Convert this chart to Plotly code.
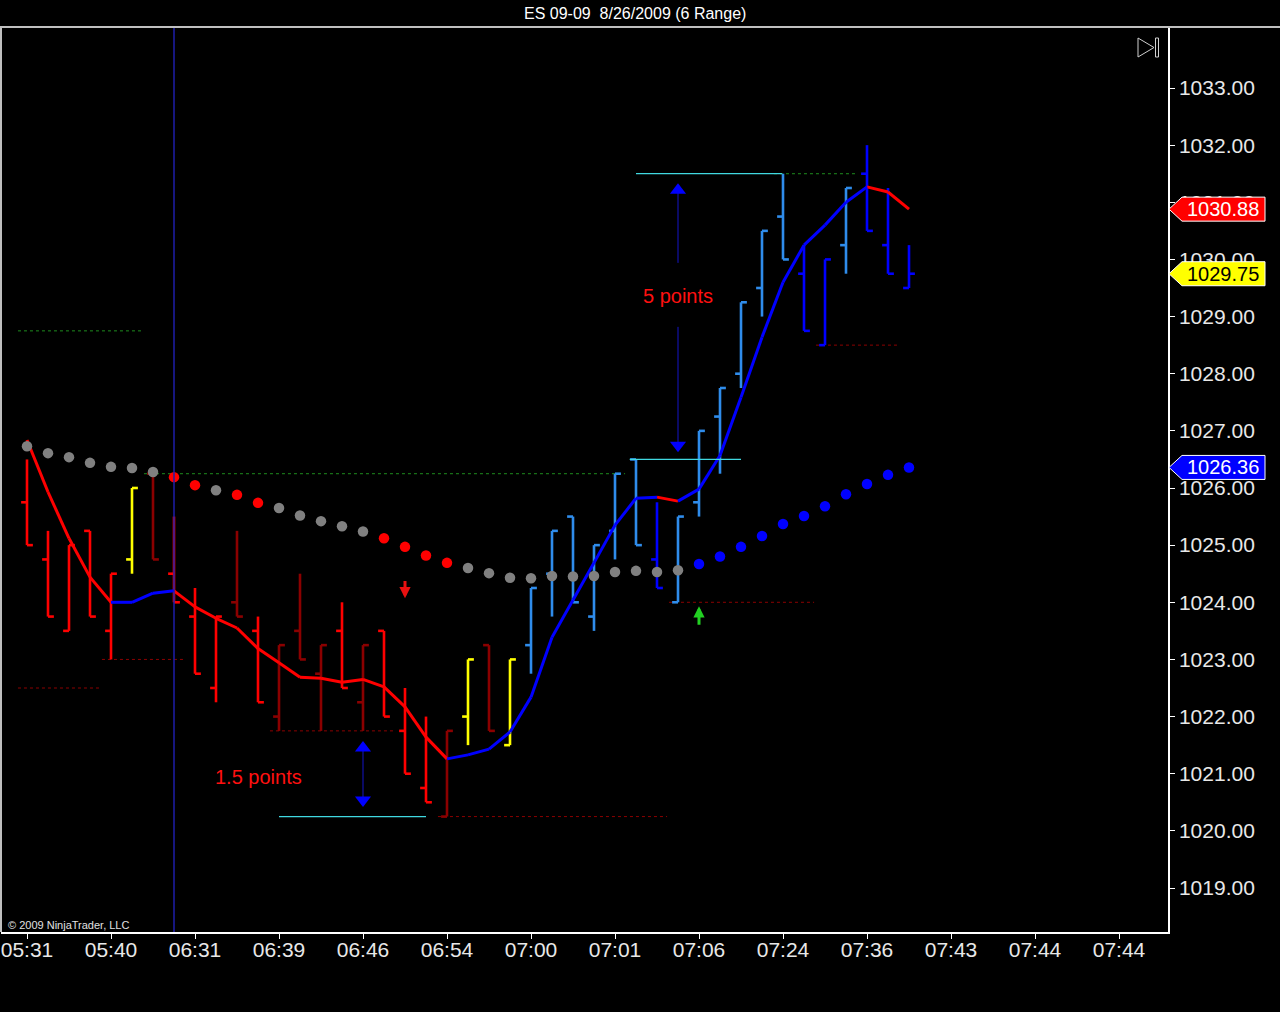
import plotly.graph_objects as go

# ES 09-09, 8/26/2009, 6 tick range bars (one entry per bar)
bar_open = [1025.75, 1024.75, 1023.50, 1025.25, 1023.50, 1024.75, 1026.25, 1024.50, 1023.75, 1022.50,
            1024.00, 1023.50, 1022.00, 1023.50, 1022.75, 1023.50, 1022.25, 1023.50, 1021.75, 1020.75,
            1020.25, 1022.00, 1023.25, 1021.50, 1023.25, 1024.50, 1025.50, 1023.75, 1025.25, 1026.50,
            1024.75, 1024.00, 1025.75, 1027.25, 1028.00, 1029.50, 1030.75, 1029.75, 1028.50, 1030.25,
            1031.50, 1030.25, 1029.50]
bar_high = [1026.50, 1025.25, 1025.00, 1025.25, 1024.50, 1026.00, 1026.25, 1025.50, 1024.25, 1023.75,
            1025.25, 1023.75, 1023.25, 1024.50, 1023.25, 1024.00, 1023.25, 1023.50, 1022.50, 1022.00,
            1021.75, 1023.00, 1023.25, 1023.00, 1024.25, 1025.25, 1025.50, 1025.00, 1026.25, 1026.50,
            1025.75, 1025.50, 1027.00, 1027.75, 1029.25, 1030.50, 1031.50, 1030.25, 1030.00, 1031.25,
            1032.00, 1031.25, 1030.25]
bar_low = [1025.00, 1023.75, 1023.50, 1023.75, 1023.00, 1024.50, 1024.75, 1024.00, 1022.75, 1022.25,
           1023.75, 1022.25, 1021.75, 1023.00, 1021.75, 1022.50, 1021.75, 1022.00, 1021.00, 1020.50,
           1020.25, 1021.50, 1021.75, 1021.50, 1022.75, 1023.75, 1024.00, 1023.50, 1024.75, 1025.00,
           1024.25, 1024.00, 1025.50, 1026.25, 1027.75, 1029.00, 1030.00, 1028.75, 1028.50, 1029.75,
           1030.50, 1029.75, 1029.50]
bar_close = [1025.00, 1023.75, 1025.00, 1023.75, 1024.50, 1026.00, 1024.75, 1024.00, 1022.75, 1023.75,
             1023.75, 1022.25, 1023.25, 1023.00, 1023.25, 1022.50, 1023.25, 1022.00, 1021.00, 1020.50,
             1021.75, 1023.00, 1021.75, 1023.00, 1024.25, 1025.25, 1024.00, 1025.00, 1026.25, 1025.00,
             1024.25, 1025.50, 1027.00, 1027.75, 1029.25, 1030.50, 1030.00, 1028.75, 1030.00, 1031.25,
             1030.50, 1029.75, 1029.75]
# bar paint: dn = down trend, wk = weak down, nt = neutral, up = up trend, su = strong up
bar_state = ['dn', 'dn', 'dn', 'dn', 'dn', 'nt', 'wk', 'dn', 'dn', 'dn',
             'wk', 'dn', 'wk', 'wk', 'wk', 'dn', 'wk', 'dn', 'dn', 'dn',
             'wk', 'nt', 'wk', 'nt', 'up', 'up', 'up', 'up', 'up', 'up',
             'su', 'up', 'up', 'up', 'up', 'up', 'up', 'su', 'su', 'up',
             'su', 'su', 'su']

# fast average (line), coloured by slope
ma_fast = [1026.84, 1025.93, 1025.12, 1024.44, 1024.00, 1024.00, 1024.16, 1024.20, 1023.92, 1023.72,
           1023.55, 1023.19, 1022.94, 1022.69, 1022.67, 1022.60, 1022.65, 1022.52, 1022.17, 1021.64,
           1021.26, 1021.33, 1021.43, 1021.73, 1022.34, 1023.39, 1024.04, 1024.69, 1025.35, 1025.82,
           1025.84, 1025.77, 1025.98, 1026.57, 1027.59, 1028.64, 1029.60, 1030.25, 1030.60, 1031.00,
           1031.27, 1031.18, 1030.88]
ma_fast_dir = ['dn'] * 5 + ['up'] * 3 + ['dn'] * 13 + ['up'] * 10 + ['dn'] + ['up'] * 9 + ['dn'] * 2

# slow average (dots)
ma_slow = [1026.73, 1026.61, 1026.54, 1026.44, 1026.37, 1026.35, 1026.28, 1026.19, 1026.05, 1025.96,
           1025.88, 1025.74, 1025.65, 1025.52, 1025.42, 1025.33, 1025.24, 1025.12, 1024.97, 1024.82,
           1024.69, 1024.60, 1024.51, 1024.43, 1024.42, 1024.46, 1024.45, 1024.46, 1024.53, 1024.55,
           1024.53, 1024.56, 1024.67, 1024.80, 1024.97, 1025.16, 1025.37, 1025.51, 1025.68, 1025.89,
           1026.07, 1026.23, 1026.36]
ma_slow_state = ['fl'] * 7 + ['dn'] * 2 + ['fl'] + ['dn'] * 2 + ['fl'] * 5 + ['dn'] * 4 + ['fl'] * 11 + ['up'] * 11

time_ticks = [0, 4, 8, 12, 16, 20, 24, 28, 32, 36, 40, 44, 48, 52]
time_labels = ['05:31', '05:40', '06:31', '06:39', '06:46', '06:54', '07:00',
               '07:01', '07:06', '07:24', '07:36', '07:43', '07:44', '07:44']
price_ticks = [1019, 1020, 1021, 1022, 1023, 1024, 1025, 1026, 1027, 1028, 1029, 1030, 1031, 1032, 1033]

# swing high / low levels: price, first bar, last bar, kind
swing_price = [1028.75, 1022.50, 1026.25, 1023.00, 1021.75, 1020.25, 1024.00, 1031.50, 1028.50]
swing_from = [0, 0, 6, 4, 12, 20, 31, 36, 38]
swing_to = [5, 3, 28, 7, 17, 30, 37, 39, 41]
swing_kind = ['hi', 'lo', 'hi', 'lo', 'lo', 'lo', 'lo', 'hi', 'lo']

# hand drawn measuring lines: price, first bar, last bar
measure_price = [1031.50, 1026.50, 1020.25]
measure_from = [29.0, 28.7, 12.0]
measure_to = [35.95, 34.0, 19.0]

# signal arrows
signal_bar = [18, 32]
signal_tip = [1024.07, 1023.93]
signal_tail = [1024.40, 1023.58]
signal_kind = ['dn', 'up']

marker_bar = 7

BAR_COL = {'dn': '#FF0000', 'wk': '#8B0000', 'nt': '#FFFF00', 'up': '#2F8CEB', 'su': '#0000FF'}
LINE_COL = {'dn': '#FF0000', 'up': '#0000FF'}
DOT_COL = {'fl': '#808080', 'dn': '#FF0000', 'up': '#0000FF'}

# pixel frame of the plot area
W, H = 1280, 1012
PL, PR, PT, PB = 1, 1168, 28, 932
PX_PER_PT = 57.14
TICK = 0.28


def px(x):
    return (x - PL) / (PR - PL)


def py(y):
    return 1 - (y - PT) / (PB - PT)


fig = go.Figure()

# range bars, one trace per paint colour
for state, col in BAR_COL.items():
    xs, ys = [], []
    for i, s in enumerate(bar_state):
        if s != state:
            continue
        xs += [i, i, None, i - TICK, i, None, i, i + TICK, None]
        ys += [bar_low[i], bar_high[i], None, bar_open[i], bar_open[i], None,
               bar_close[i], bar_close[i], None]
    fig.add_trace(go.Scatter(x=xs, y=ys, mode='lines', line=dict(color=col, width=2.6),
                             hoverinfo='skip'))

# fast average segments
for d, col in LINE_COL.items():
    xs, ys = [], []
    for i in range(1, len(ma_fast)):
        if ma_fast_dir[i] == d:
            xs += [i - 1, i, None]
            ys += [ma_fast[i - 1], ma_fast[i], None]
    fig.add_trace(go.Scatter(x=xs, y=ys, mode='lines', line=dict(color=col, width=3),
                             hoverinfo='skip'))

# slow average dots
fig.add_trace(go.Scatter(x=list(range(len(ma_slow))), y=ma_slow, mode='markers',
                         marker=dict(size=10.5, color=[DOT_COL[s] for s in ma_slow_state]),
                         hoverinfo='skip'))

# measuring arrows (5 points, 1.5 points)
fig.add_trace(go.Scatter(x=[31, 31, None, 31, 31, None, 16, 16],
                         y=[1031.21, 1029.94, None, 1028.82, 1026.75, None, 1021.45, 1020.54],
                         mode='lines', line=dict(color='#1515C8', width=1), hoverinfo='skip'))
fig.add_trace(go.Scatter(x=[31, 16], y=[1031.21, 1021.45], mode='markers',
                         marker=dict(symbol='triangle-up', size=14, color='#0000FF'),
                         hoverinfo='skip'))
fig.add_trace(go.Scatter(x=[31, 16], y=[1026.75, 1020.54], mode='markers',
                         marker=dict(symbol='triangle-down', size=14, color='#0000FF'),
                         hoverinfo='skip'))

shapes = []
for p, a, b, k in zip(swing_price, swing_from, swing_to, swing_kind):
    shapes.append(dict(type='line', xref='x', yref='y', x0=a - 0.43, x1=b + 0.48, y0=p, y1=p,
                       line=dict(color='#1E8C1E' if k == 'hi' else '#8B0000', width=1, dash='dot'),
                       layer='below'))
for p, a, b in zip(measure_price, measure_from, measure_to):
    shapes.append(dict(type='line', xref='x', yref='y', x0=a, x1=b, y0=p, y1=p,
                       line=dict(color='#40D8E0', width=1.2)))

# vertical marker line
shapes.append(dict(type='line', xref='x', yref='paper', x0=marker_bar, x1=marker_bar, y0=0, y1=1,
                   line=dict(color='#1E1EAA', width=1.5)))

# frame: top rule over the whole width and left border
shapes.append(dict(type='line', xref='paper', yref='paper', x0=px(0), x1=px(W), y0=py(27), y1=py(27),
                   line=dict(color='white', width=1.5)))
shapes.append(dict(type='line', xref='paper', yref='paper', x0=px(1), x1=px(1), y0=py(28), y1=0,
                   line=dict(color='white', width=1.5)))

# "scroll to end" icon
shapes.append(dict(type='path', xref='paper', yref='paper',
                   path=f'M {px(1138)} {py(38)} L {px(1138)} {py(57)} L {px(1154)} {py(47.5)} Z',
                   line=dict(color='#D0D0D0', width=1)))
shapes.append(dict(type='rect', xref='paper', yref='paper', x0=px(1155.5), x1=px(1158.5),
                   y0=py(38), y1=py(57), line=dict(color='#D0D0D0', width=1)))

annotations = []

# price tags on the axis
tags = [(ma_fast[-1], '#FF0000', 'white'),
        (bar_close[-1], '#FFFF00', 'black'),
        (ma_slow[-1], '#0000FF', 'white')]
half = 12 / PX_PER_PT
for v, bg, fg in tags:
    shapes.append(dict(type='path', xref='paper', yref='y',
                       path=(f'M {px(1169)} {v} L {px(1182)} {v + half} L {px(1265)} {v + half} '
                             f'L {px(1265)} {v - half} L {px(1182)} {v - half} Z'),
                       fillcolor=bg, line=dict(color='white', width=1), layer='above'))
    annotations.append(dict(xref='paper', yref='y', x=px(1223), y=v, text=f'{v:.2f}',
                            showarrow=False, font=dict(size=20, color=fg),
                            xanchor='center', yanchor='middle'))

# signal arrows
for b, tip, tail, k in zip(signal_bar, signal_tip, signal_tail, signal_kind):
    annotations.append(dict(x=b, y=tip, ax=b, ay=tail, xref='x', yref='y', axref='x', ayref='y',
                            text='', showarrow=True, arrowhead=2, arrowsize=0.75, arrowwidth=3,
                            arrowcolor='#E81010' if k == 'dn' else '#22D022'))

annotations += [
    dict(xref='x', yref='y', x=31, y=1029.36, text='5 points', showarrow=False,
         font=dict(size=20, color='#FF1010')),
    dict(xref='x', yref='y', x=11, y=1020.94, text='1.5 points', showarrow=False,
         font=dict(size=20, color='#FF1010')),
    dict(xref='paper', yref='paper', x=px(635), y=py(13), text='ES 09-09  8/26/2009 (6 Range)',
         showarrow=False, font=dict(size=16, color='white'), xanchor='center', yanchor='middle'),
    dict(xref='paper', yref='paper', x=px(6), y=py(925), text='© 2009 NinjaTrader, LLC',
         showarrow=False, font=dict(size=11, color='#E0E0E0'), xanchor='left', yanchor='middle'),
]

x_lo = (PL - 27) / 21
x_hi = (PR - 27) / 21
y_hi = 1033 + (88 - PT) / PX_PER_PT
y_lo = 1019 - (PB - 888) / PX_PER_PT

fig.update_layout(
    width=W, height=H,
    paper_bgcolor='black', plot_bgcolor='black',
    margin=dict(l=PL, r=W - PR, t=PT, b=H - PB),
    showlegend=False,
    font=dict(family='Liberation Sans, Arial, sans-serif', color='white'),
    shapes=shapes, annotations=annotations,
)
fig.update_xaxes(range=[x_lo, x_hi], tickvals=time_ticks, ticktext=time_labels,
                 showgrid=False, zeroline=False, showline=True, linecolor='white', linewidth=1.5,
                 ticks='outside', ticklen=5, tickcolor='white', tickwidth=1,
                 ticklabelstandoff=-7,
                 tickfont=dict(size=21, color='#E8E8E8'))
fig.update_yaxes(range=[y_lo, y_hi], side='right', tickvals=price_ticks,
                 ticktext=[f'{p:.2f}' for p in price_ticks],
                 showgrid=False, zeroline=False, showline=True, linecolor='white', linewidth=1.5,
                 ticks='outside', ticklen=5, tickcolor='white', tickwidth=1,
                 tickfont=dict(size=21, color='#E8E8E8'))

fig.write_html("out.html", config={'displayModeBar': False},
               post_script="document.body.style.margin='0';document.body.style.background='black';")
